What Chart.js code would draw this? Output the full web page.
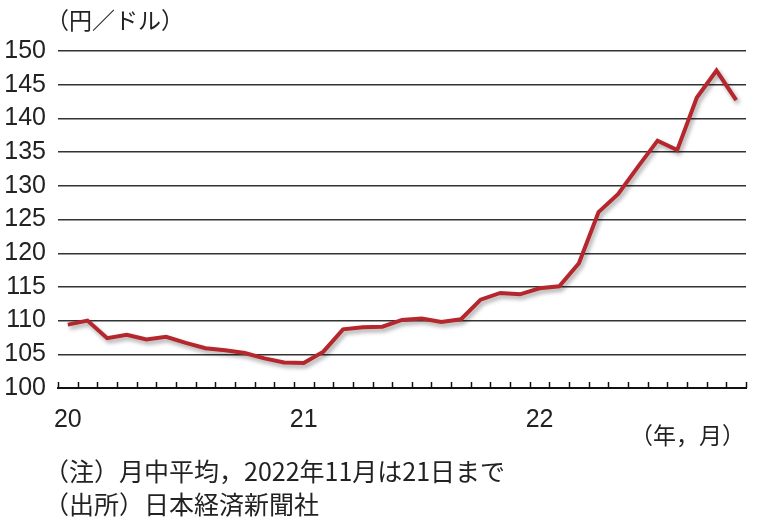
<!DOCTYPE html>
<html>
<head>
<meta charset="utf-8">
<script src="https://cdn.jsdelivr.net/npm/chart.js@4/dist/chart.umd.min.js"></script>
<style>
  body { margin: 0; background: #fff; }
  #wrap { position: relative; width: 758px; height: 527px; }
  canvas { position: absolute; left: 0; top: 0; }
  .jp { position: absolute; font-family: 'Noto Sans CJK JP', sans-serif; color: #222; white-space: nowrap; }
</style>
</head>
<body>
<div id="wrap">
  <canvas id="myChart" width="758" height="527"></canvas>
  <div class="jp" style="left:46px; top:2px; font-size:23px;">（円／ドル）</div>
  <div class="jp" style="left:630px; top:417px; font-size:23px;">（年，月）</div>
  <div class="jp" style="left:44px; top:452px; font-size:25px;">（注）月中平均，2022年11月は21日まで</div>
  <div class="jp" style="left:44px; top:485px; font-size:25px;">（出所）日本経済新聞社</div>
</div>
<script>
// 月中平均 円/ドル 2020年1月〜2022年11月
const months = [
  '2020-01','2020-02','2020-03','2020-04','2020-05','2020-06','2020-07','2020-08','2020-09','2020-10','2020-11','2020-12',
  '2021-01','2021-02','2021-03','2021-04','2021-05','2021-06','2021-07','2021-08','2021-09','2021-10','2021-11','2021-12',
  '2022-01','2022-02','2022-03','2022-04','2022-05','2022-06','2022-07','2022-08','2022-09','2022-10','2022-11'
];
const usdJpy = [
  109.4, 110.0, 107.4, 107.9, 107.2, 107.6, 106.7, 105.9, 105.6, 105.2, 104.4, 103.8,
  103.7, 105.4, 108.7, 109.0, 109.1, 110.1, 110.3, 109.8, 110.2, 113.1, 114.1, 113.9,
  114.8, 115.1, 118.5, 126.1, 128.8, 132.8, 136.7, 135.3, 143.1, 147.1, 142.7
];
const yearLabels = ['20', '21', '22'];
const yMin = 100, yMax = 150, yStep = 5;

const numFont = { family: "'Liberation Sans', sans-serif", size: 25 };

// 月ごとの目盛り（軸から上向き）
const monthTicks = {
  id: 'monthTicks',
  afterDraw(chart) {
    const x = chart.scales.x;
    const ctx = chart.ctx;
    ctx.save();
    ctx.strokeStyle = '#111';
    ctx.lineWidth = 1.5;
    for (let i = 0; i <= months.length; i++) {
      const px = Math.round(x.getPixelForValue(i - 0.5)) + 0.5;
      ctx.beginPath();
      ctx.moveTo(px, x.top);
      ctx.lineTo(px, x.top - 6);
      ctx.stroke();
    }
    ctx.restore();
  }
};

// 線の影
const lineShadow = {
  id: 'lineShadow',
  beforeDatasetDraw(chart) {
    const ctx = chart.ctx;
    ctx.save();
    ctx.shadowColor = 'rgba(0,0,0,0.35)';
    ctx.shadowOffsetX = 2;
    ctx.shadowOffsetY = 3;
    ctx.shadowBlur = 4;
  },
  afterDatasetDraw(chart) {
    chart.ctx.restore();
  }
};

const ctx = document.getElementById('myChart').getContext('2d');
const myChart = new Chart(ctx, {
  type: 'line',
  data: {
    labels: months,
    datasets: [{
      data: usdJpy,
      borderColor: '#b5262d',
      borderWidth: 4,
      pointRadius: 0,
      tension: 0,
      borderJoinStyle: 'miter'
    }]
  },
  options: {
    responsive: false,
    animation: false,
    layout: { padding: { top: 51, right: 12, bottom: 99, left: 0 } },
    plugins: { legend: { display: false }, tooltip: { enabled: false } },
    scales: {
      x: {
        offset: true,
        grid: { display: false, offset: true },
        border: { display: true, color: '#111', width: 2 },
        ticks: {
          autoSkip: false,
          maxRotation: 0,
          padding: 9,
          color: '#222',
          font: numFont,
          callback: (v, i) => (i % 12 === 0 ? yearLabels[i / 12] : '')
        },
        afterFit: (s) => { s.height = 40; }
      },
      y: {
        min: yMin,
        max: yMax,
        grid: { color: '#333', lineWidth: 1.4, drawTicks: false },
        border: { display: false },
        ticks: {
          stepSize: yStep,
          autoSkip: false,
          padding: 12,
          color: '#222',
          font: numFont
        },
        afterFit: (s) => { s.width = 58; }
      }
    }
  },
  plugins: [lineShadow, monthTicks]
});
</script>
</body>
</html>
